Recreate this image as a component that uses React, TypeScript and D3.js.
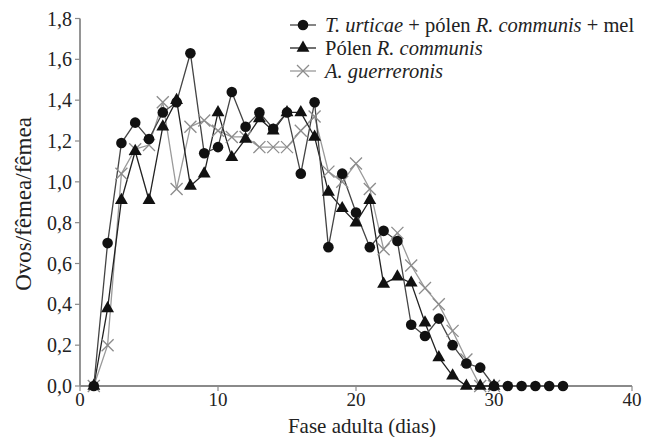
import React from "react";
import * as d3 from "d3";

// Ovos/fêmea/fêmea por dia da fase adulta
const circleDays = d3.range(1, 36);
const circleVals = [0, 0.70, 1.19, 1.29, 1.21, 1.34, 1.39, 1.63, 1.14, 1.17, 1.44, 1.27, 1.34, 1.26, 1.34, 1.04, 1.39, 0.68, 1.04, 0.85, 0.68, 0.76, 0.71, 0.30, 0.245, 0.33, 0.20, 0.11, 0.09, 0, 0, 0, 0, 0, 0];
const triDays = d3.range(1, 31);
const triVals = [0, 0.38, 0.91, 1.15, 0.91, 1.27, 1.40, 0.98, 1.04, 1.34, 1.12, 1.21, 1.31, 1.25, 1.34, 1.34, 1.22, 0.95, 0.87, 0.80, 0.91, 0.50, 0.535, 0.505, 0.31, 0.14, 0.05, 0, 0, 0];
const crossDays = d3.range(1, 31);
const crossVals = [0, 0.20, 1.04, 1.16, 1.18, 1.39, 0.965, 1.27, 1.30, 1.25, 1.22, 1.22, 1.17, 1.17, 1.17, 1.25, 1.32, 1.05, 1.00, 1.09, 0.965, 0.67, 0.75, 0.59, 0.48, 0.40, 0.27, 0.13, 0, 0];
const xTicks = [0, 10, 20, 30, 40];
const yTicks = [0, 0.2, 0.4, 0.6, 0.8, 1.0, 1.2, 1.4, 1.6, 1.8];

const font = "'Liberation Serif', 'Times New Roman', Times, serif";
const axisColor = "#8a8a8a";

export default function App() {
  const x = d3.scaleLinear().domain([0, 40]).range([80, 632]);
  const y = d3.scaleLinear().domain([0, 1.8]).range([386, 18.5]);
  const fmt = (v: number) => v.toFixed(1).replace(".", ",");

  const line = d3
    .line<[number, number]>()
    .x((d) => x(d[0]))
    .y((d) => y(d[1]));

  const circ = circleDays.map((d, i) => [d, circleVals[i]] as [number, number]);
  const tri = triDays.map((d, i) => [d, triVals[i]] as [number, number]);
  const crs = crossDays.map((d, i) => [d, crossVals[i]] as [number, number]);

  const triPath = d3.symbol(d3.symbolTriangle, 72)()!;

  const cross = (cx: number, cy: number, k: string | number, s = 6) => (
    <g key={k} stroke="#8c8c8c" strokeWidth={1.3}>
      <line x1={cx - s} y1={cy - s} x2={cx + s} y2={cy + s} />
      <line x1={cx - s} y1={cy + s} x2={cx + s} y2={cy - s} />
    </g>
  );

  const legendRows = [25, 48, 71];

  return (
    <svg width={658} height={437} style={{ position: "absolute", left: 0, top: 0, background: "#fff", fontFamily: font }}>
      {/* eixos */}
      <line x1={x(0)} x2={x(40)} y1={y(0)} y2={y(0)} stroke={axisColor} strokeWidth={1.8} />
      <line x1={x(0)} x2={x(0)} y1={y(0)} y2={y(1.8)} stroke={axisColor} strokeWidth={1.8} />
      {yTicks.map((t) => (
        <g key={"y" + t}>
          <line x1={x(0) - 5} x2={x(0)} y1={y(t)} y2={y(t)} stroke={axisColor} strokeWidth={1.2} />
          <text x={x(0) - 8} y={y(t)} dy="0.35em" textAnchor="end" fontSize={20} fill="#222">
            {fmt(t)}
          </text>
        </g>
      ))}
      {xTicks.map((t) => (
        <g key={"x" + t}>
          <line x1={x(t)} x2={x(t)} y1={y(0)} y2={y(0) + 5} stroke={axisColor} strokeWidth={1.2} />
          <text x={x(t)} y={406} textAnchor="middle" fontSize={19} fill="#222">
            {t}
          </text>
        </g>
      ))}
      <text x={362} y={433} textAnchor="middle" fontSize={21} fill="#222">
        Fase adulta (dias)
      </text>
      <text transform="translate(31,204) rotate(-90)" textAnchor="middle" fontSize={23} fill="#222">
        Ovos/fêmea/fêmea
      </text>

      {/* séries */}
      <path d={line(crs)!} fill="none" stroke="#9a9a9a" strokeWidth={1.3} />
      <path d={line(tri)!} fill="none" stroke="#222" strokeWidth={1.3} />
      <path d={line(circ)!} fill="none" stroke="#444" strokeWidth={1.3} />
      {crs.map((d, i) => cross(x(d[0]), y(d[1]), "c" + i))}
      {tri.map((d, i) => (
        <path key={"t" + i} d={triPath} transform={`translate(${x(d[0])},${y(d[1])})`} fill="#111" />
      ))}
      {circ.map((d, i) => (
        <circle key={"o" + i} cx={x(d[0])} cy={y(d[1])} r={5.3} fill="#111" />
      ))}

      {/* legenda */}
      <g fontSize={20.5} fill="#222">
        <line x1={290} x2={316} y1={legendRows[0]} y2={legendRows[0]} stroke="#444" strokeWidth={1.3} />
        <circle cx={303} cy={legendRows[0]} r={5.3} fill="#111" />
        <text x={325} y={legendRows[0]} dy="0.33em">
          <tspan fontStyle="italic">T. urticae</tspan> + pólen <tspan fontStyle="italic">R. communis</tspan> + mel
        </text>
        <line x1={290} x2={316} y1={legendRows[1]} y2={legendRows[1]} stroke="#222" strokeWidth={1.3} />
        <path d={triPath} transform={`translate(303,${legendRows[1]})`} fill="#111" />
        <text x={325} y={legendRows[1]} dy="0.33em">
          Pólen <tspan fontStyle="italic">R. communis</tspan>
        </text>
        <line x1={290} x2={316} y1={legendRows[2]} y2={legendRows[2]} stroke="#9a9a9a" strokeWidth={1.3} />
        {cross(303, legendRows[2], "lg")}
        <text x={325} y={legendRows[2]} dy="0.33em" fontStyle="italic">
          A. guerreronis
        </text>
      </g>
    </svg>
  );
}
